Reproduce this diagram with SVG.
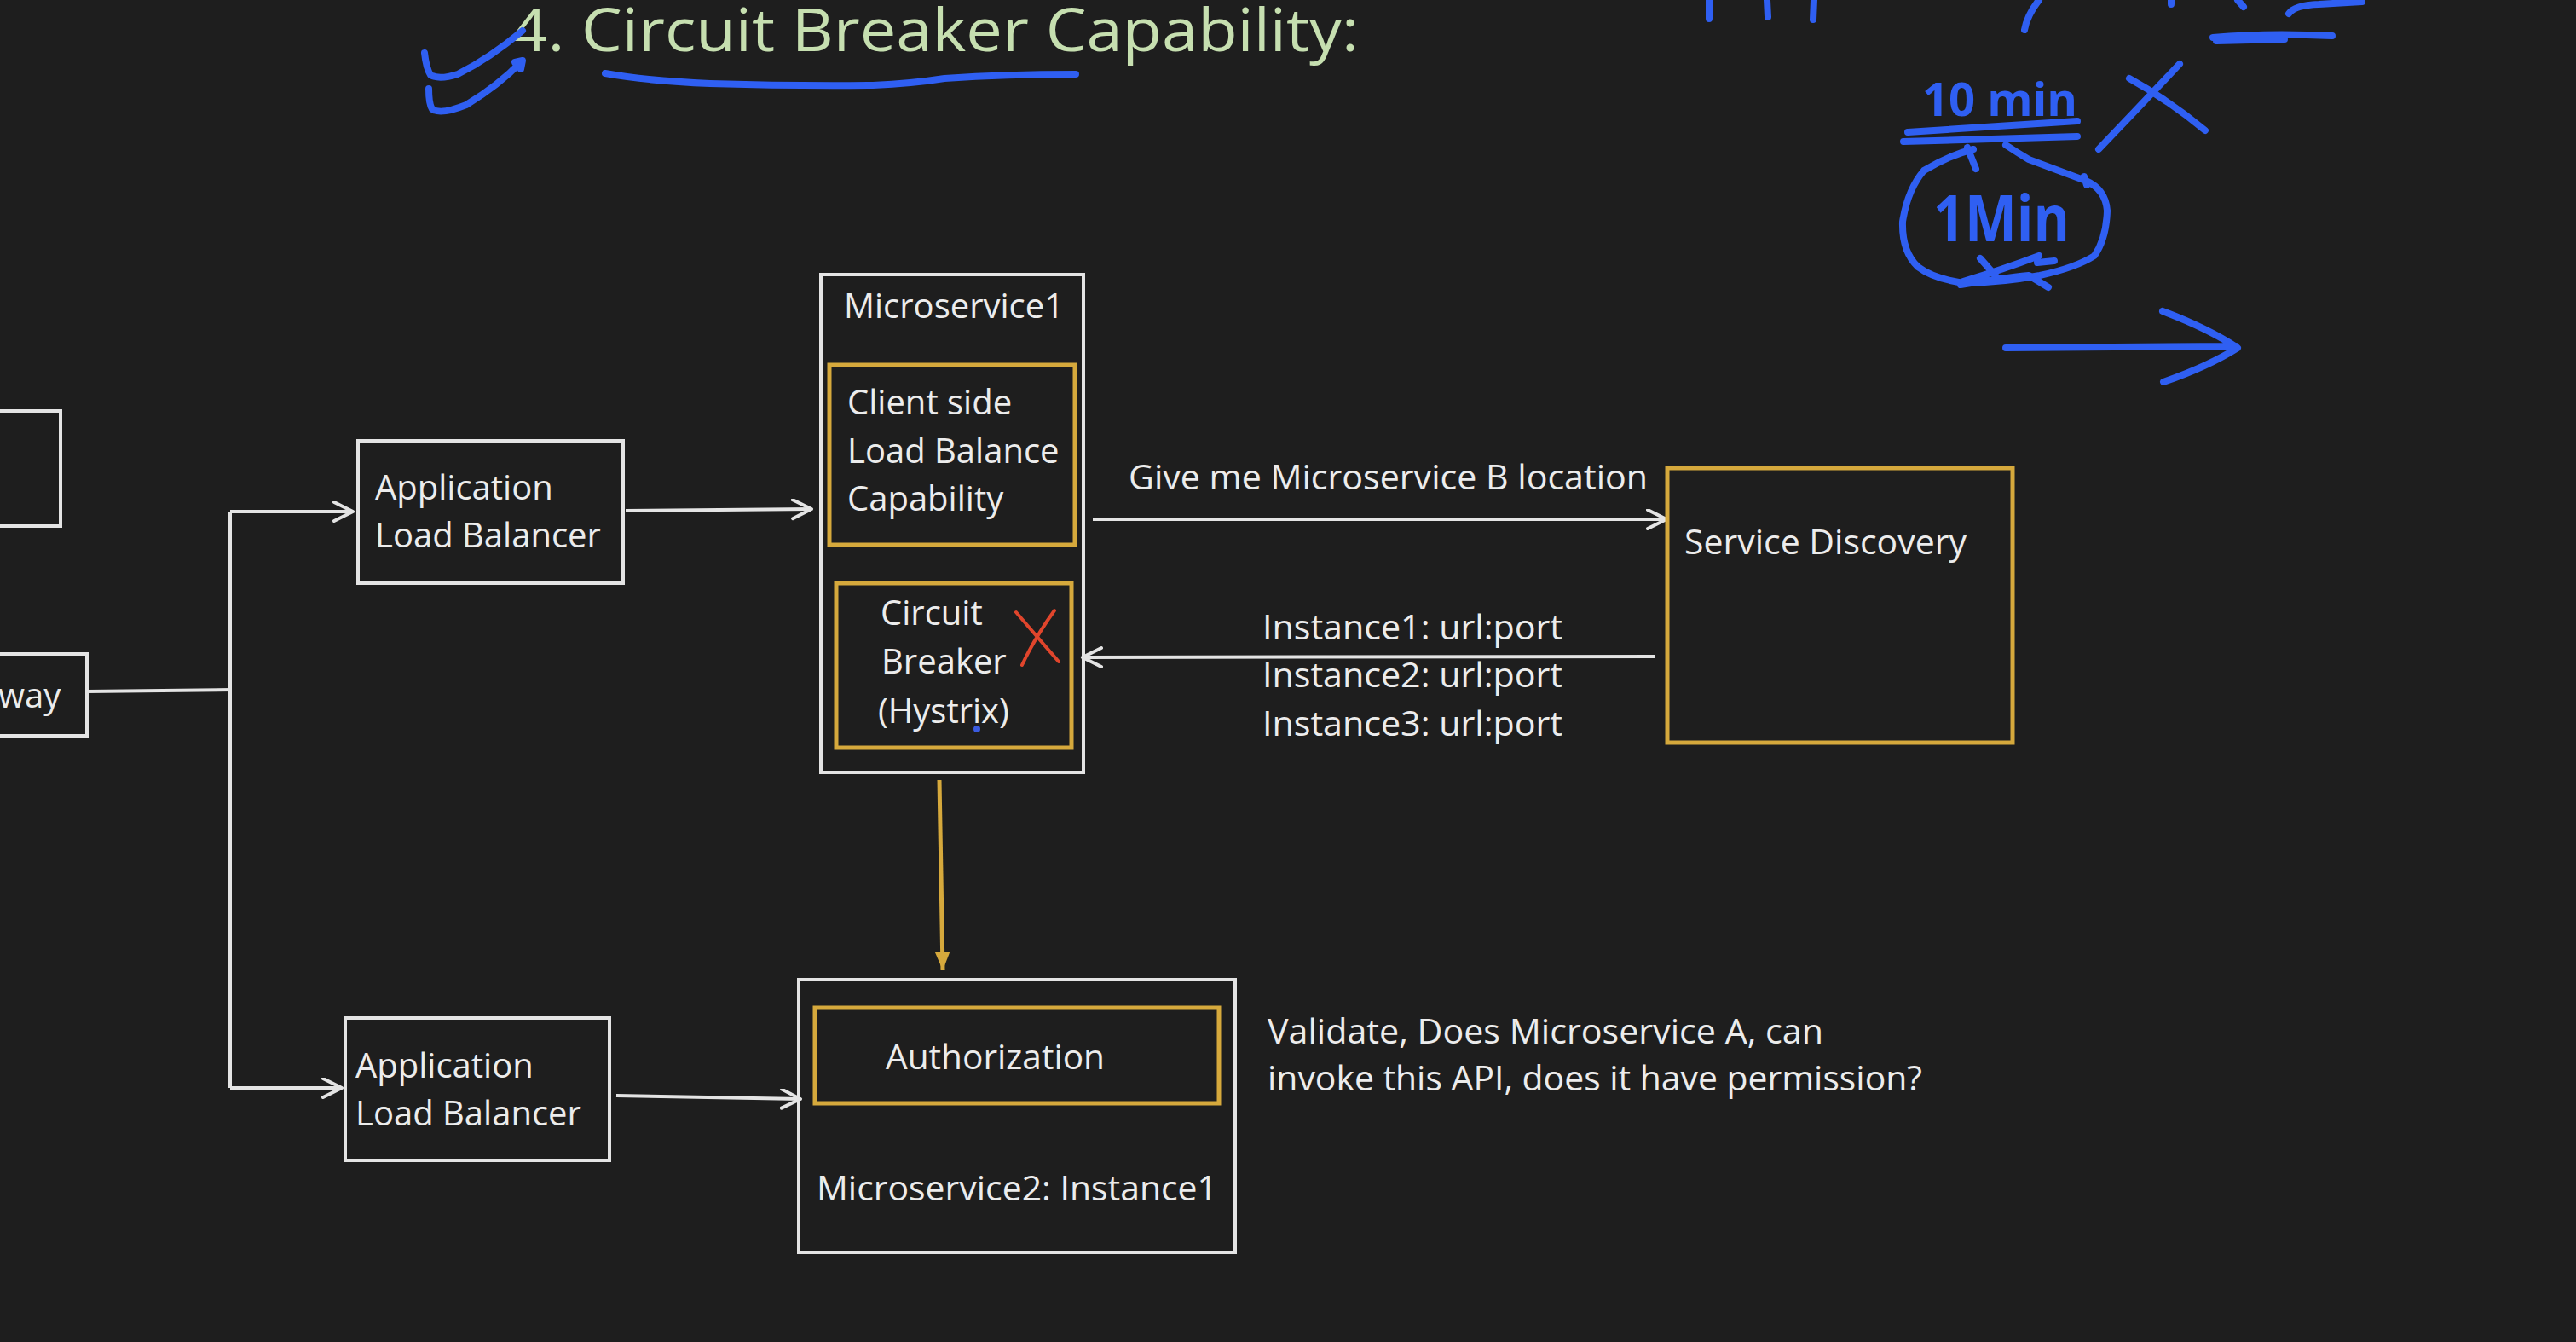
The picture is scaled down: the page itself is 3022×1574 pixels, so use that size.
<svg xmlns="http://www.w3.org/2000/svg" width="3022" height="1574" viewBox="0 0 3022 1574">
<defs>
<style>
.bx{fill:none;stroke:#e4e4e4;stroke-width:4}
.gd{fill:none;stroke:#d6a93c;stroke-width:5}
.t{font-family:"Open Sans","Noto Sans","DejaVu Sans",sans-serif;font-size:40px;fill:#ececec}
.c{font-family:"Open Sans","Noto Sans","DejaVu Sans",sans-serif;font-size:40px;fill:#ececec}
.ln{fill:none;stroke:#e4e4e4;stroke-width:4}
.ink{fill:none;stroke:#2f5ff2;stroke-width:8;stroke-linecap:round;stroke-linejoin:round}
.hw{font-family:"Open Sans","DejaVu Sans",sans-serif;font-weight:700;fill:#2f5ff2}
</style>
<marker id="ah" markerUnits="userSpaceOnUse" markerWidth="30" markerHeight="30" refX="24" refY="12" orient="auto">
<path d="M2,1 L24,12 L2,23" fill="none" stroke="#e4e4e4" stroke-width="4" stroke-linecap="round" stroke-linejoin="round"/>
</marker>
<marker id="ahg" markerUnits="userSpaceOnUse" markerWidth="30" markerHeight="30" refX="22" refY="9" orient="auto">
<path d="M0,0 L22,9 L0,18 Z" fill="#d6a93c"/>
</marker>
</defs>
<rect x="0" y="0" width="3022" height="1574" fill="#1e1e1e"/>

<text class="c" x="599" y="60" font-size="70" textLength="995" lengthAdjust="spacingAndGlyphs" style="font-size:70px;fill:#c6dfb0">4. Circuit Breaker Capability:</text>

<g id="connectors">
<polyline class="ln" points="102,811 272,809"/>
<polyline class="ln" points="270,600 270,1276"/>
<polyline class="ln" points="270,600 414,600" marker-end="url(#ah)"/>
<polyline class="ln" points="270,1276 401,1276" marker-end="url(#ah)"/>
<polyline class="ln" points="734,599 952,597" marker-end="url(#ah)"/>
<polyline class="ln" points="723,1285 939,1289" marker-end="url(#ah)"/>
<polyline class="ln" points="1282,609 1955,609" marker-end="url(#ah)"/>
<polyline class="ln" points="1941,770 1270,771" marker-end="url(#ah)"/>
<line x1="1102" y1="915" x2="1106" y2="1138" stroke="#d6a93c" stroke-width="5" marker-end="url(#ahg)"/>
</g>

<g id="node-top-partial">
<rect class="bx" x="-10" y="482" width="81" height="135"/>
</g>
<g id="node-gateway">
<rect class="bx" x="-10" y="767" width="112" height="96"/>
<text class="t" x="-2" y="830">way</text>
</g>
<g id="node-alb1">
<rect class="bx" x="420" y="517" width="311" height="167"/>
<text class="t" x="440" y="586">Application</text>
<text class="t" x="440" y="642">Load Balancer</text>
</g>
<g id="node-alb2">
<rect class="bx" x="405" y="1194" width="310" height="167"/>
<text class="t" x="417" y="1264">Application</text>
<text class="t" x="417" y="1320">Load Balancer</text>
</g>
<g id="node-ms1">
<rect class="bx" x="963" y="322" width="308" height="584"/>
<text class="t" x="990" y="373">Microservice1</text>
<rect class="gd" x="973" y="428" width="288" height="211"/>
<text class="t" x="994" y="486">Client side</text>
<text class="t" x="994" y="543">Load Balance</text>
<text class="t" x="994" y="599">Capability</text>
<rect class="gd" x="981" y="684" width="276" height="193"/>
<text class="t" x="1033" y="733">Circuit</text>
<text class="t" x="1034" y="790">Breaker</text>
<text class="t" x="1030" y="848">(Hystrix)</text>
<path d="M1192,718 Q1215,745 1242,776 M1237,716 Q1214,748 1199,780" fill="none" stroke="#e0452c" stroke-width="4" stroke-linecap="round"/>
<circle cx="1146" cy="855" r="4" fill="#3a5be0"/>
</g>
<g id="node-service-discovery">
<rect class="gd" x="1956" y="549" width="405" height="322"/>
<text class="c" x="1976" y="650" textLength="331" lengthAdjust="spacingAndGlyphs">Service Discovery</text>
</g>
<g id="node-ms2">
<rect class="bx" x="937" y="1149" width="512" height="320"/>
<rect class="gd" x="956" y="1182" width="474" height="112"/>
<text class="c" x="1039" y="1254" textLength="257" lengthAdjust="spacingAndGlyphs">Authorization</text>
<text class="c" x="958" y="1408" textLength="470" lengthAdjust="spacingAndGlyphs">Microservice2: Instance1</text>
</g>

<g id="labels">
<text class="c" x="1324" y="574" textLength="609" lengthAdjust="spacingAndGlyphs">Give me Microservice B location</text>
<text class="c" x="1481" y="750" textLength="352" lengthAdjust="spacingAndGlyphs">Instance1: url:port</text>
<text class="c" x="1481" y="806" textLength="352" lengthAdjust="spacingAndGlyphs">Instance2: url:port</text>
<text class="c" x="1481" y="863" textLength="352" lengthAdjust="spacingAndGlyphs">Instance3: url:port</text>
<text class="c" x="1487" y="1224" textLength="652" lengthAdjust="spacingAndGlyphs">Validate, Does Microservice A, can</text>
<text class="c" x="1487" y="1279" textLength="768" lengthAdjust="spacingAndGlyphs">invoke this API, does it have permission?</text>
</g>

<g id="annotations">
<path class="ink" d="M498,62 Q500,80 505,88 Q515,94 537,87 Q575,68 613,36"/>
<path class="ink" d="M503,104 Q503,122 507,128 Q517,135 547,123 Q585,100 612,72 M604,73 L613,71 L611,81"/>
<path class="ink" d="M710,86 Q760,95 833,98 Q930,101 1024,100 Q1070,98 1108,92 Q1180,87 1262,87" stroke-width="9"/>
<path class="ink" d="M2005,0 L2005,22 M2073,0 L2074,20 M2128,0 L2127,23 M2392,0 Q2378,18 2375,35 M2547,0 L2547,5 M2625,0 L2632,8 M2685,16 Q2692,6 2720,5 L2771,2"/>
<path class="ink" d="M2596,44 Q2660,38 2736,42 M2600,48 L2680,46" stroke-width="11"/>
<text class="hw" x="2255" y="136" font-size="54" textLength="182" lengthAdjust="spacingAndGlyphs" style="font-size:54px">10 min</text>
<path class="ink" d="M2238,155 L2437,142 M2233,166 L2437,160"/>
<path class="ink" d="M2498,92 Q2545,118 2587,153 M2557,75 Q2510,125 2462,175"/>
<path class="ink" d="M2315,175 Q2287,182 2257,200 Q2238,222 2232,260 Q2231,295 2250,313 Q2270,328 2307,332 Q2350,331 2393,323 Q2435,314 2457,300 Q2471,280 2472,247 Q2470,222 2447,212 Q2415,200 2380,187 Q2365,178 2353,170 M2308,173 L2318,198 M2445,207 L2448,217"/>
<text class="hw" x="2268" y="283" font-size="76" textLength="160" lengthAdjust="spacingAndGlyphs" style="font-size:76px">1Min</text>
<path class="ink" d="M2323,303 L2345,328 M2303,330 Q2350,316 2392,300 M2300,334 Q2350,326 2380,323 L2403,337 M2390,308 L2410,306"/>
<path class="ink" d="M2353,408 L2623,406 M2537,365 Q2590,385 2625,408 Q2590,430 2538,448" stroke-width="13"/>
</g>
</svg>
